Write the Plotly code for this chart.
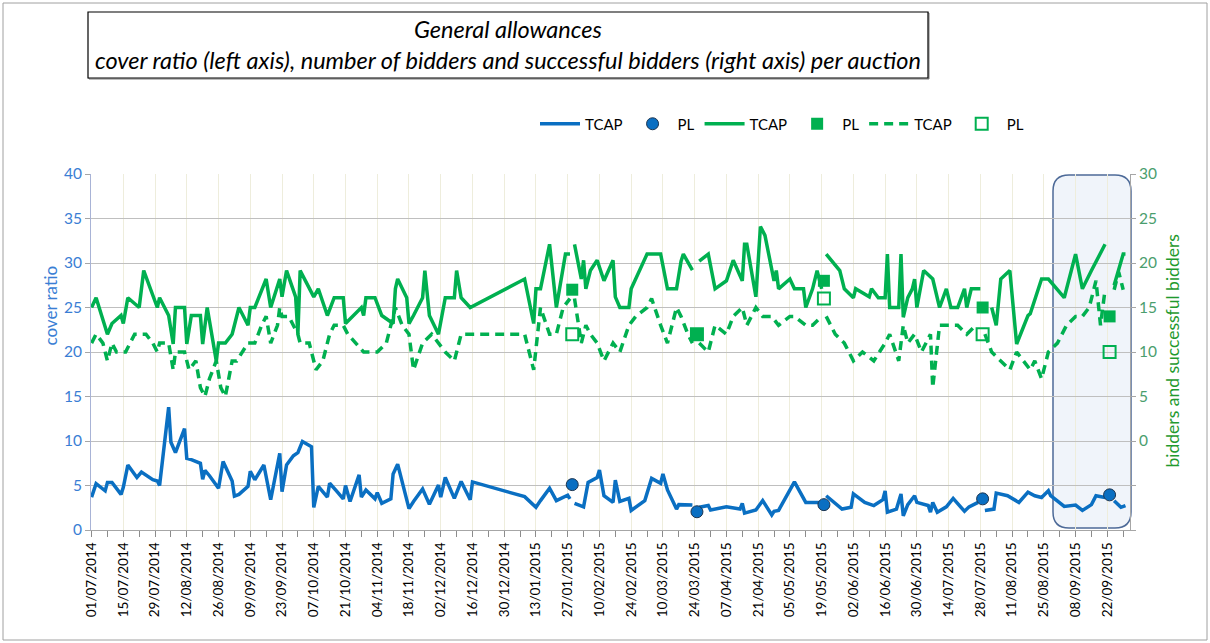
import pandas as pd
import plotly.graph_objects as go

BASE = "2014-07-01"

# ---- cover ratio (left axis), TCAP auctions: day offset from 01/07/2014, value ----
cover_days = [0, 2, 6, 7, 9, 13, 14, 16, 20, 22,
              27, 29, 30, 34, 35, 37, 41, 42, 44, 48,
              49, 50, 52, 56, 58, 62, 63, 65, 69, 70,
              72, 76, 79, 83, 84, 86, 89, 91, 93, 97,
              98, 100, 104, 105, 108, 111, 112, 114, 118, 119,
              121, 125, 126, 128, 132, 133, 135, 140, 142, 146,
              149, 153, 154, 156, 160, 163, 167, 168, 191, 196,
              198, 202, 205, 208, 210, 211, 212, 213, 217, 219,
              223, 224, 226, 230, 231, 233, 237, 238, 241, 244,
              247, 251, 252, 254, 258, 259, 265, 267, 268, 272,
              273, 280, 286, 287, 288, 293, 296, 300, 301, 303,
              310, 315, 321, 323, 324, 331, 335, 336, 341, 345,
              349, 350, 351, 355, 357, 358, 360, 363, 364, 369,
              370, 371, 373, 377, 380, 385, 387, 391, 393, 394,
              398, 399, 404, 409, 413, 416, 419, 422, 423, 429,
              434, 437, 441, 443, 447, 449, 451, 454, 456]
cover_tcap = [3.7, 5.2, 4.4, 5.35, 5.35, 4.0, 4.8, 7.3, 5.9, 6.5,
              5.65, 5.5, 5.0, 13.8, 9.85, 8.7, 11.4, 8.05, 7.9, 7.5,
              5.7, 6.7, 6.1, 4.7, 7.7, 5.5, 3.8, 4.0, 4.9, 6.6,
              5.65, 7.3, 3.4, 8.6, 4.3, 7.3, 8.35, 8.7, 9.95, 9.35,
              2.55, 4.9, 3.7, 5.25, 4.4, 3.5, 5.0, 3.2, 6.2, 3.7,
              4.5, 3.5, 4.2, 3.0, 3.5, 6.3, 7.4, 2.4, 3.2, 4.6,
              2.9, 5.05, 3.7, 5.9, 3.55, 5.45, 3.4, 5.4, 3.75, 2.55,
              3.3, 4.7, 3.3, 3.7, 3.9, 3.5, None, 3.0, 2.6, 5.35,
              5.9, 6.75, 3.85, 3.1, 5.6, 3.2, 3.55, 2.2, 2.75, 3.3,
              5.8, 5.25, 6.3, 4.5, 2.35, 2.85, 2.8, None, 2.55, 2.75,
              2.25, 2.6, 2.35, 3.0, 1.9, 2.25, 3.3, 1.7, 2.1, 2.2,
              5.4, 3.1, 3.1, None, 3.85, 2.35, 2.55, 4.05, 3.1, 2.75,
              3.4, 4.4, 2.0, 2.35, 4.05, 1.6, 2.85, 3.85, 3.1, 2.75,
              2.0, 3.1, 2.0, 2.6, 3.55, 2.1, 2.6, 3.1, None, 2.2,
              2.35, 4.15, 3.85, 3.1, 4.25, 3.85, 3.65, 4.4, 3.85, 2.65,
              2.8, 2.2, 2.85, 3.85, 3.65, None, 3.3, 2.55, 2.75]

# ---- PL auctions ----
pl_days = [212, 267, 323, 393, 449]
cover_pl = [5.1, 2.05, 2.85, 3.5, 3.95]
bidders_pl = [17, 12, 18, 15, 14]
successful_pl = [12, 12, 16, 12, 10]

# ---- number of bidders (right axis), TCAP ----
bid_days = [0, 2, 7, 9, 13, 14, 16, 21, 23, 27,
            29, 30, 34, 36, 37, 41, 42, 44, 48, 49,
            51, 55, 56, 59, 62, 65, 69, 70, 72, 77,
            79, 83, 84, 86, 90, 91, 92, 98, 100, 104,
            107, 111, 112, 119, 120, 121, 125, 128, 133, 134,
            135, 139, 140, 142, 146, 147, 149, 153, 156, 160,
            161, 163, 167, 191, 195, 196, 198, 202, 205, 209,
            211, 212, 213, 216, 217, 218, 220, 223, 226, 230,
            231, 233, 237, 238, 245, 251, 254, 258, 260, 261,
            265, 267, 268, 272, 275, 280, 283, 287, 288, 289,
            293, 295, 297, 301, 302, 303, 308, 310, 314, 315,
            318, 320, 322, 323, 324, 330, 332, 336, 337, 343,
            344, 347, 350, 351, 352, 356, 357, 358, 360, 362,
            363, 364, 367, 371, 374, 377, 379, 382, 385, 386,
            388, 392, 393, 397, 399, 401, 405, 408, 413, 414,
            419, 422, 429, 434, 437, 441, 447, 449, 451, 455,
            456]
bidders_tcap = [15.0, 16.1, 12.0, 13.2, 14.1, 13.2, 16.1, 15.0, 19.15, 16.5,
                15.0, 16.1, 14.1, 10.9, 15.0, 15.0, 10.9, 14.1, 14.1, 10.9,
                15.0, 9.0, 11.0, 11.0, 12.0, 15.0, 13.0, 15.0, 15.0, 18.2,
                15.0, 18.2, 16.2, 19.15, 16.2, 12.0, 19.15, 16.2, 17.1, 14.1,
                16.1, 16.1, 13.2, 15.0, 14.1, 16.1, 16.1, 14.1, 13.2, 17.1,
                18.2, 16.1, 13.2, 14.1, 16.1, 19.15, 14.1, 12.0, 16.1, 16.1,
                19.15, 16.1, 15.0, 18.2, 13.2, 17.1, 17.1, 22.1, 15.0, 21.0,
                21.0, None, 22.1, 18.2, 20.3, 17.1, 19.15, 20.3, 18.0, 20.3,
                16.2, 15.0, 15.0, 17.1, 21.0, 21.0, 17.1, 17.1, 20.2, 21.0,
                19.2, None, 20.2, 21.0, 17.1, 18.0, 20.3, 18.0, 22.1, 22.1,
                16.2, 24.1, 23.1, 18.0, 19.15, 17.1, 18.2, 17.1, 17.1, 15.0,
                17.1, 19.15, 17.1, None, 21.0, 19.15, 17.1, 16.1, 17.1, 16.2,
                17.1, 16.1, 16.1, 21.0, 15.0, 15.0, 21.0, 13.9, 16.1, 17.1,
                18.2, 15.0, 19.15, 18.2, 15.0, 17.1, 15.0, 15.0, 17.1, 15.0,
                17.1, 17.1, None, 15.0, 13.0, 18.2, 19.15, 10.9, 14.1, 14.3,
                18.2, 18.2, 16.1, 21.0, 17.1, 19.15, 22.1, None, 17.5, 21.0,
                21.0]

# ---- number of successful bidders (right axis), TCAP ----
succ_days = [0, 2, 5, 7, 9, 11, 15, 19, 24, 27,
             29, 30, 34, 36, 37, 41, 43, 46, 48, 50,
             52, 55, 57, 59, 62, 64, 69, 72, 75, 77,
             79, 82, 83, 84, 87, 91, 92, 96, 99, 102,
             105, 107, 111, 113, 120, 126, 130, 134, 137, 140,
             142, 146, 150, 153, 156, 160, 163, 167, 191, 195,
             198, 202, 205, 208, 211, 212, 213, 216, 218, 220,
             223, 226, 230, 233, 237, 240, 245, 247, 251, 254,
             258, 260, 263, 265, 267, 268, 272, 275, 280, 283,
             287, 289, 293, 296, 300, 303, 308, 310, 315, 318,
             322, 323, 324, 328, 332, 336, 340, 345, 350, 352,
             356, 358, 360, 363, 366, 370, 371, 374, 378, 382,
             386, 390, 393, 394, 397, 401, 405, 408, 411, 414,
             416, 419, 422, 426, 430, 434, 437, 440, 443, 445,
             447, 449, 451, 453, 455]
successful_tcap = [11, 12, 11, 9, 11, 10, 10, 12, 12, 11,
                   10, 11, 11, 8, 10, 10, 8, 9, 6, 5,
                   7, 9, 6, 5, 9, 9, 11, 11, 13, 14,
                   11, 13, 15, 14, 14, 12, 11, 11, 8, 9,
                   12, 13, 13, 12, 10, 10, 11, 15, 13, 12,
                   8, 11, 12, 11, 10, 9, 12, 12, 12, 8,
                   15, 12, 12, 15, 16, None, 16, 11, 13, 12,
                   11, 9, 11, 10, 13, 14, 15, 16, 13, 11,
                   15, 14, 12, 11, None, 11, 10, 13, 12, 14,
                   15, 13, 15, 14, 14, 13, 14, 14, 13, 13,
                   14, None, 14, 12, 11, 9, 10, 9, 11, 12,
                   9, 13, 11, 12, 10, 12, 6, 13, 13, 13,
                   12, 13, None, 12, 10, 9, 8, 10, 9, 8,
                   9, 7, 10, 11, 13, 14, 14, 15, 18, 13,
                   17, None, 17, 19, 17]

x_ticks_start = "2014-07-01"

base = pd.Timestamp(BASE)
def to_dates(days):
    return [base + pd.Timedelta(days=d) for d in days]

BLUE = "#0a6fc2"
GREEN = "#00b050"

fig = go.Figure()
fig.add_trace(go.Scatter(x=to_dates(cover_days), y=cover_tcap, mode="lines", name="TCAP",
                         line=dict(color=BLUE, width=3.5), connectgaps=False))
fig.add_trace(go.Scatter(x=to_dates(pl_days), y=cover_pl, mode="markers", name="PL",
                         marker=dict(color=BLUE, size=12, line=dict(color="#1c344f", width=1))))
fig.add_trace(go.Scatter(x=to_dates(bid_days), y=bidders_tcap, mode="lines", name="TCAP", yaxis="y2",
                         line=dict(color=GREEN, width=3.5), connectgaps=False))
fig.add_trace(go.Scatter(x=to_dates(pl_days), y=bidders_pl, mode="markers", name="PL", yaxis="y2",
                         marker=dict(color=GREEN, size=12, symbol="square")))
fig.add_trace(go.Scatter(x=to_dates(succ_days), y=successful_tcap, mode="lines", name="TCAP", yaxis="y2",
                         line=dict(color=GREEN, width=3.5, dash="9px,6px"), connectgaps=False))
fig.add_trace(go.Scatter(x=to_dates(pl_days), y=successful_pl, mode="markers", name="PL", yaxis="y2",
                         marker=dict(color=GREEN, size=12, symbol="square-open",
                                     line=dict(color=GREEN, width=2))))

L, R, T, B = 91, 1130, 174, 530
W, H = 1210, 643
def px(xp):
    return (xp - L) / (R - L)
def py(yp):
    return (B - yp) / (B - T)

day_ms = 86400000
x_end = base + pd.Timedelta(days=458)

FONT = "Lato, Open Sans, sans-serif"

fig.update_layout(
    width=W, height=H,
    margin=dict(l=L, r=W - R, t=T, b=H - B),
    paper_bgcolor="white", plot_bgcolor="white",
    font=dict(family=FONT, size=14, color="black"),
    showlegend=True,
    legend=dict(orientation="h", x=px(535), y=py(124), xanchor="left", yanchor="middle",
                font=dict(size=15, color="black"), bgcolor="rgba(0,0,0,0)",
                itemwidth=40, tracegroupgap=0),
    xaxis=dict(type="date", range=[base - pd.Timedelta(hours=6), x_end],
               tick0=x_ticks_start, dtick=14 * day_ms, tickformat="%d/%m/%Y", tickangle=-90,
               showgrid=True, gridcolor="#eeeddc", gridwidth=1,
               ticks="outside", ticklen=6, tickcolor="#8c8c8c",
               showline=True, linecolor="#a6a6a6", zeroline=False,
               tickfont=dict(size=13.5, color="black", family=FONT),
               minor=dict(dtick=7 * day_ms, tick0=x_ticks_start, ticks="outside", ticklen=6,
                          tickcolor="#8c8c8c", showgrid=False)),
    yaxis=dict(range=[0, 40], dtick=5, showgrid=True, gridcolor="#bfbfbf", gridwidth=1.3,
               ticks="outside", ticklen=5, tickcolor="#a6a6a6",
               showline=True, linecolor="#a8b3d6", zeroline=False,
               tickfont=dict(size=15.5, color="#3a7ed4", family=FONT)),
    yaxis2=dict(range=[-10, 30], overlaying="y", side="right", showgrid=False,
                tickvals=[-10, -5, 0, 5, 10, 15, 20, 25, 30],
                ticktext=["", "", "0", "5", "10", "15", "20", "25", "30"],
                ticks="outside", ticklen=5, tickcolor="#a6a6a6",
                showline=True, linecolor="#a6a6a6", zeroline=False,
                tickfont=dict(size=15.5, color="#4a9e6e", family=FONT)),
)

# highlight box of the most recent auctions (rounded rectangle)
x0, x1, y0, y1 = px(1053), px(1131), py(528), py(175)
rx, ry = 16 / (R - L), 16 / (B - T)
path = (f"M {x0+rx},{y0} L {x1-rx},{y0} Q {x1},{y0} {x1},{y0+ry} "
        f"L {x1},{y1-ry} Q {x1},{y1} {x1-rx},{y1} L {x0+rx},{y1} Q {x0},{y1} {x0},{y1-ry} "
        f"L {x0},{y0+ry} Q {x0},{y0} {x0+rx},{y0} Z")
fig.add_shape(type="path", path=path, xref="paper", yref="paper", layer="between",
              fillcolor="rgba(222,231,244,0.45)", line=dict(color="#4d6a98", width=1.5))

# outer frame
fig.add_shape(type="rect", xref="paper", yref="paper", x0=px(3), x1=px(1207), y0=py(640), y1=py(3),
              line=dict(color="#a0a0a0", width=1), layer="below")
# title box (thin shadow + frame)
fig.add_shape(type="rect", xref="paper", yref="paper", x0=px(89), x1=px(929), y0=py(79), y1=py(13),
              line=dict(color="#7a7a7a", width=1), fillcolor="rgba(0,0,0,0)", layer="above")
fig.add_shape(type="rect", xref="paper", yref="paper", x0=px(88), x1=px(928), y0=py(78), y1=py(12),
              line=dict(color="black", width=1.2), fillcolor="white", layer="above")
fig.add_annotation(xref="paper", yref="paper", x=px(508), y=py(45), xanchor="center", yanchor="middle",
                   showarrow=False,
                   text="<i>General allowances</i><br><i>cover ratio (left axis), number of bidders and successful bidders (right axis) per auction</i>",
                   font=dict(size=23.5, color="black", family=FONT), align="center")
# axis titles
fig.add_annotation(xref="paper", yref="paper", x=px(37), y=py(306), showarrow=False, textangle=-90,
                   text="cover ratio", font=dict(size=17, color="#3a7ed4", family=FONT))
fig.add_annotation(xref="paper", yref="paper", x=px(1184), y=py(351), showarrow=False, textangle=-90,
                   text="bidders and successful bidders", font=dict(size=17.5, color="#1f9a2e", family=FONT))

fig.write_html("out.html", config={"displayModeBar": False},
               post_script="document.body.style.margin='0px';")
